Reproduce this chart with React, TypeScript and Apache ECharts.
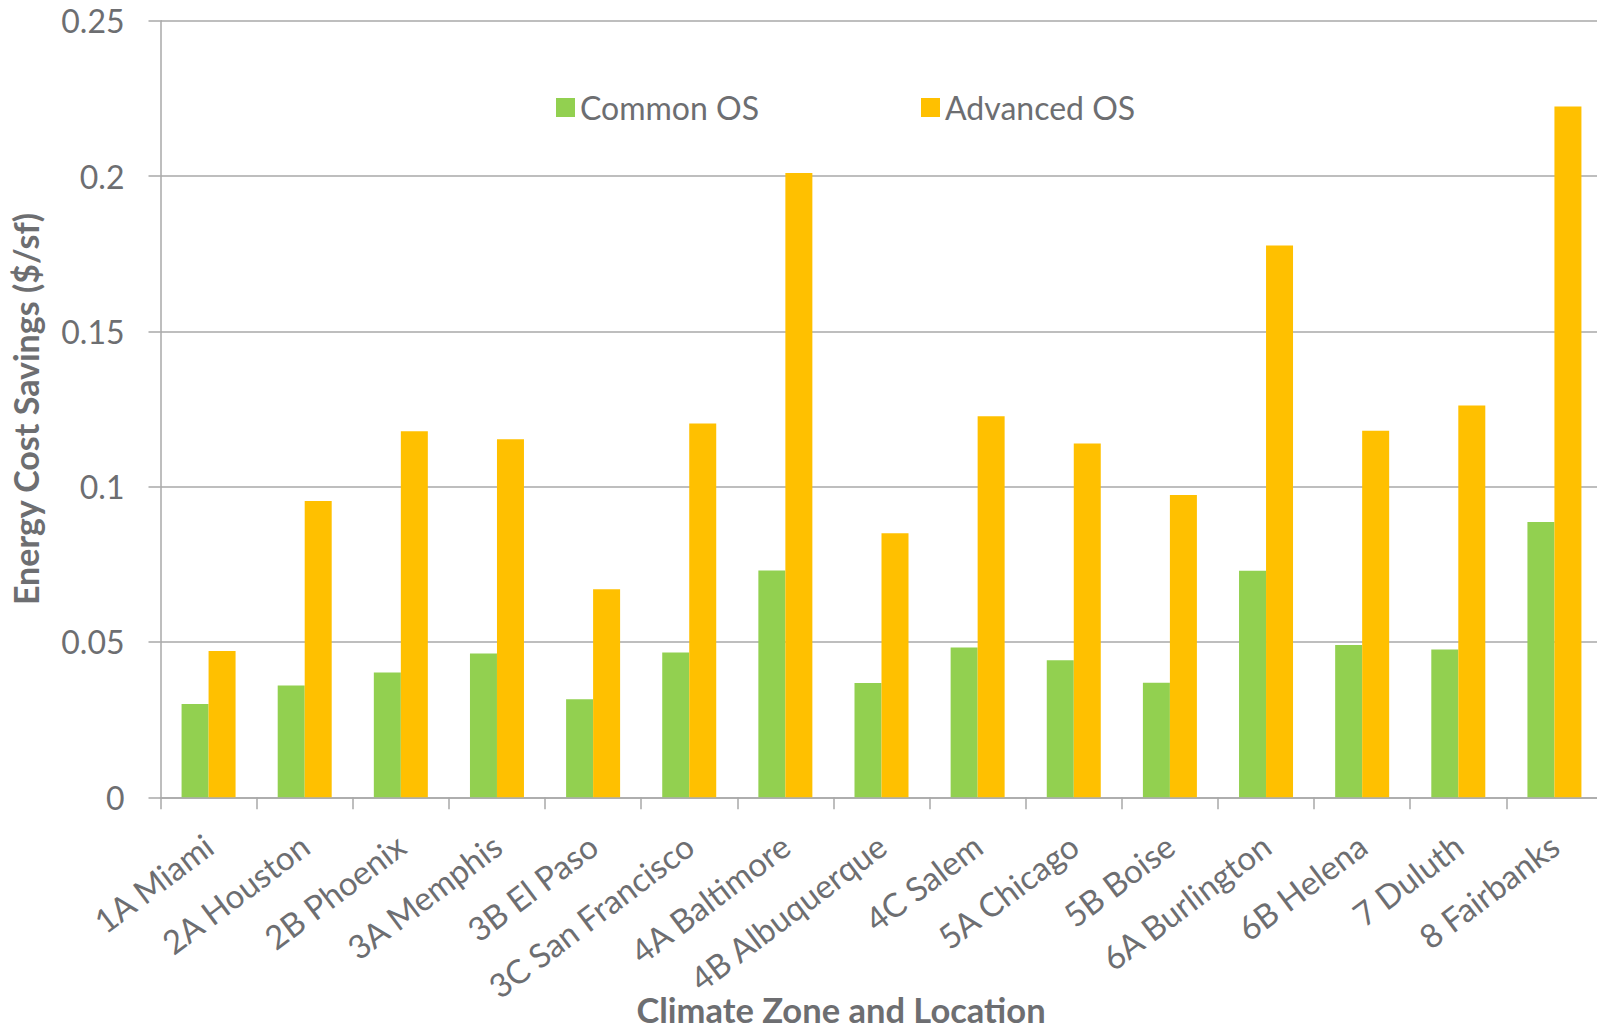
import React, { useEffect, useRef } from "react";
import * as echarts from "echarts";

// Climate zones with their representative city
const categories = [
  "1A Miami",
  "2A Houston",
  "2B Phoenix",
  "3A Memphis",
  "3B El Paso",
  "3C San Francisco",
  "4A Baltimore",
  "4B Albuquerque",
  "4C Salem",
  "5A Chicago",
  "5B Boise",
  "6A Burlington",
  "6B Helena",
  "7 Duluth",
  "8 Fairbanks",
];

// Energy cost savings, $ per square foot
const commonOS = [
  0.03, 0.036, 0.0402, 0.0463, 0.0316, 0.0466, 0.073, 0.0368, 0.0482, 0.0441,
  0.0369, 0.0729, 0.049, 0.0476, 0.0886,
];
const advancedOS = [
  0.0471, 0.0954, 0.1178, 0.1153, 0.067, 0.1203, 0.201, 0.085, 0.1227, 0.1139,
  0.0973, 0.1776, 0.118, 0.1261, 0.2224,
];

const seriesNames = ["Common OS", "Advanced OS"];
const yMin = 0;
const yMax = 0.25;
const yStep = 0.05;

const GREEN = "#92D050";
const ORANGE = "#FFC000";
const TEXT = "#6D6E71";
const LINE = "#A9A9A9";
const FONT = "Lato, 'Open Sans', sans-serif";

export default function App() {
  const ref = useRef<HTMLDivElement>(null);

  useEffect(() => {
    if (!ref.current) return;
    const chart = echarts.init(ref.current, null, { renderer: "svg" });

    const legendBase = {
      orient: "horizontal",
      top: 86.5,
      itemWidth: 19,
      itemHeight: 19,
      icon: "rect",
      selectedMode: false,
      textStyle: { color: TEXT, fontSize: 32, fontFamily: FONT },
    };

    chart.setOption({
      animation: false,
      backgroundColor: "#ffffff",
      textStyle: { fontFamily: FONT },
      // the plot area runs a little past the right edge of the canvas
      grid: {
        left: 160.5,
        width: 1442,
        top: 20.7,
        bottom: 230.7,
        containLabel: false,
        outerBoundsMode: "none",
      },
      legend: [
        { ...legendBase, left: 551, data: [seriesNames[0]] },
        { ...legendBase, left: 916, data: [seriesNames[1]] },
      ],
      xAxis: {
        type: "category",
        data: categories,
        boundaryGap: true,
        axisLine: { show: true, lineStyle: { color: LINE, width: 1.5 } },
        axisTick: { show: true, length: 12, alignWithLabel: false, lineStyle: { color: LINE, width: 1.5 } },
        axisLabel: {
          interval: 0,
          rotate: 37,
          margin: 44,
          color: TEXT,
          fontSize: 33,
          fontFamily: FONT,
        },
      },
      yAxis: {
        type: "value",
        min: yMin,
        max: yMax,
        interval: yStep,
        name: "Energy Cost Savings ($/sf)",
        nameLocation: "middle",
        nameGap: 118,
        nameTextStyle: { color: TEXT, fontSize: 34, fontWeight: "bold", fontFamily: FONT },
        axisLine: { show: true, lineStyle: { color: LINE, width: 1.5 } },
        axisTick: { show: true, length: 12, lineStyle: { color: LINE, width: 1.5 } },
        axisLabel: { color: TEXT, fontSize: 32, margin: 36, fontFamily: FONT },
        splitLine: { show: true, lineStyle: { color: LINE, width: 1.5 } },
      },
      graphic: [
        {
          type: "text",
          x: 841,
          y: 1009,
          style: {
            text: "Climate Zone and Location",
            fill: TEXT,
            font: `bold 34.5px ${FONT}`,
            lineHeight: 34,
            textAlign: "center",
            textVerticalAlign: "middle",
          },
        },
      ],
      series: [
        {
          name: seriesNames[0],
          type: "bar",
          data: commonOS,
          barWidth: 27,
          barGap: "0%",
          itemStyle: { color: GREEN },
        },
        {
          name: seriesNames[1],
          type: "bar",
          data: advancedOS,
          barWidth: 27,
          barGap: "0%",
          itemStyle: { color: ORANGE },
        },
      ],
    });

    return () => chart.dispose();
  }, []);

  return (
    <div
      ref={ref}
      style={{ position: "absolute", left: 0, top: 0, width: 1597, height: 1028 }}
    />
  );
}
